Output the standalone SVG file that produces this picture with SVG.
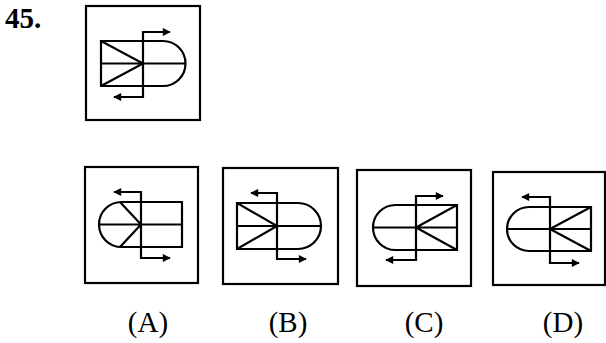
<svg xmlns="http://www.w3.org/2000/svg" width="606" height="343" viewBox="0 0 606 343">
<style>
.box{fill:none;stroke:#000;stroke-width:2.2}
.fig{fill:none;stroke:#000;stroke-width:2.2;stroke-linejoin:miter}
.arr{fill:none;stroke:#000;stroke-width:2.2;marker-start:url(#ah);marker-end:url(#ah)}
.lbl{font-family:"Liberation Serif","Times New Roman",serif;font-size:29px;fill:#000;text-anchor:middle}
.num{font-family:"Liberation Serif","Times New Roman",serif;font-size:29px;font-weight:bold;fill:#000}
</style>
<defs>
<marker id="ah" viewBox="0 0 10 10" refX="9" refY="5" markerWidth="10" markerHeight="8" markerUnits="userSpaceOnUse" orient="auto-start-reverse">
<path d="M0,0 L10,5 L0,10 Z" fill="#000"/>
</marker>
</defs>
<rect width="606" height="343" fill="#fff"/>
<text class="num" x="5" y="28">45.</text>

<g id="question">
<rect class="box" x="86" y="6" width="114" height="114"/>
<path class="fig" d="M101,41 H163 A22.5,22.5 0 0 1 163,86 H101 Z M101,63.5 H185.5 M101,41 L143,63.5 L101,86"/>
<path class="arr" d="M114,97 H143 V32 H170"/>
</g>

<g id="optionA">
<rect class="box" x="85" y="167" width="113" height="116"/>
<path class="fig" d="M121.5,202 H182 V247 H121.5 A22.5,22.5 0 0 1 121.5,202 Z M99,224.5 H182 M120,202 L141,224.5 L120,247"/>
<path class="arr" d="M114,192 H141 V258 H170"/>
<text class="lbl" x="148" y="332">(A)</text>
</g>

<g id="optionB">
<rect class="box" x="223" y="168" width="115" height="116"/>
<path class="fig" d="M237,203 H298 A23,23 0 0 1 298,249 H237 Z M237,226 H321 M237,203 L277,226 L237,249"/>
<path class="arr" d="M251,193 H277 V259 H306"/>
<text class="lbl" x="288" y="332">(B)</text>
</g>

<g id="optionC">
<rect class="box" x="357" y="170" width="114" height="116"/>
<path class="fig" d="M395.5,205 H457 V250 H395.5 A22.5,22.5 0 0 1 395.5,205 Z M373,227.5 H457 M457,205 L416,227.5 L457,250"/>
<path class="arr" d="M443,196 H416 V260 H386"/>
<text class="lbl" x="424" y="332">(C)</text>
</g>

<g id="optionD">
<rect class="box" x="493" y="172" width="112" height="113"/>
<path class="fig" d="M529,207 H591 V251 H529 A22,22 0 0 1 529,207 Z M507,229 H591 M591,207 L550,229 L591,251"/>
<path class="arr" d="M522,197 H550 V263 H579"/>
<text class="lbl" x="563" y="332">(D)</text>
</g>
</svg>
